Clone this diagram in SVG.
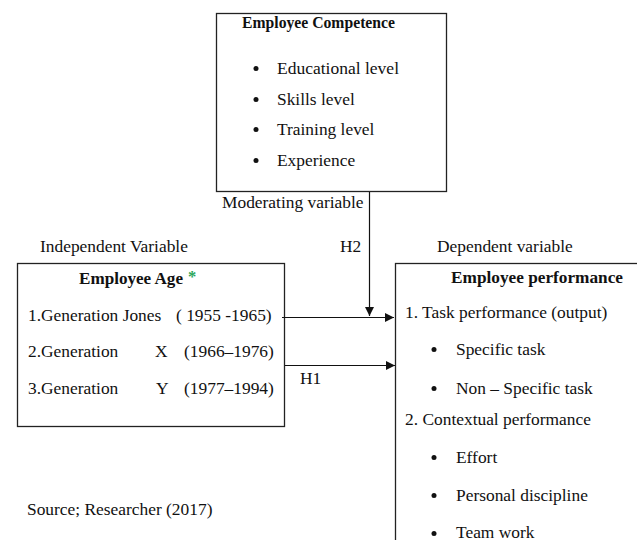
<svg xmlns="http://www.w3.org/2000/svg" width="637" height="540" viewBox="0 0 637 540">
  <style>
    text { font-family: "Liberation Serif", "Times New Roman", serif; font-size: 17.4px; fill: #111; }
    .b { font-weight: bold; font-size: 16.5px; }
    .box { fill: #fff; stroke: #222; stroke-width: 1.3; }
    .ln { stroke: #111; stroke-width: 1.2; fill: none; }
    .dot { fill: #111; }
  </style>
  <defs>
    <marker id="arr" viewBox="0 0 10 10" refX="10" refY="5" markerWidth="9" markerHeight="9" markerUnits="userSpaceOnUse" orient="auto">
      <path d="M0,0 L10,5 L0,10 z" fill="#111"/>
    </marker>
  </defs>
  <rect width="637" height="540" fill="#fff"/>

  <!-- Moderating variable -->
  <g id="competence">
    <rect class="box" x="216.5" y="13.5" width="230" height="178"/>
    <text class="b" x="242" y="28" textLength="153" lengthAdjust="spacingAndGlyphs">Employee Competence</text>
    <circle class="dot" cx="256" cy="68.5" r="2.5"/>
    <text x="277" y="74" textLength="122" lengthAdjust="spacingAndGlyphs">Educational level</text>
    <circle class="dot" cx="256" cy="99.5" r="2.5"/>
    <text x="277" y="105">Skills level</text>
    <circle class="dot" cx="256" cy="129.5" r="2.5"/>
    <text x="277" y="135">Training level</text>
    <circle class="dot" cx="256" cy="160.5" r="2.5"/>
    <text x="277" y="166">Experience</text>
  </g>
  <text x="222" y="208">Moderating variable</text>

  <!-- Independent variable -->
  <text x="40" y="252">Independent Variable</text>
  <g id="age">
    <rect class="box" x="17.5" y="263.5" width="267" height="163"/>
    <text class="b" x="79" y="284" textLength="104" lengthAdjust="spacingAndGlyphs">Employee Age</text>
    <text class="b" x="188" y="282" fill="#2aa65a" style="fill:#2aa65a">*</text>
    <text x="28" y="321">1.Generation Jones</text>
    <text x="176" y="321">( 1955 -1965)</text>
    <text x="28" y="357">2.Generation</text>
    <text x="155" y="357">X</text>
    <text x="184" y="357">(1966–1976)</text>
    <text x="28" y="394">3.Generation</text>
    <text x="156" y="394">Y</text>
    <text x="184" y="394">(1977–1994)</text>
  </g>

  <!-- Dependent variable -->
  <text x="437" y="252">Dependent variable</text>
  <g id="performance">
    <rect class="box" x="395.5" y="263.5" width="260" height="300"/>
    <text class="b" x="451" y="283" textLength="172" lengthAdjust="spacingAndGlyphs">Employee performance</text>
    <text x="405" y="318">1. Task performance (output)</text>
    <circle class="dot" cx="434" cy="349.5" r="2.5"/>
    <text x="456" y="355">Specific task</text>
    <circle class="dot" cx="434" cy="388.5" r="2.5"/>
    <text x="456" y="394">Non – Specific task</text>
    <text x="405" y="425">2.  Contextual performance</text>
    <circle class="dot" cx="434" cy="457.5" r="2.5"/>
    <text x="456" y="463">Effort</text>
    <circle class="dot" cx="434" cy="495.5" r="2.5"/>
    <text x="456" y="501">Personal discipline</text>
    <circle class="dot" cx="434" cy="533.5" r="2.5"/>
    <text x="456" y="538">Team work</text>
  </g>

  <!-- Connectors -->
  <g id="connectors">
    <line class="ln" x1="369.5" y1="192" x2="369.5" y2="316" marker-end="url(#arr)"/>
    <line class="ln" x1="282" y1="317.5" x2="394" y2="317.5" marker-end="url(#arr)"/>
    <line class="ln" x1="285" y1="365.5" x2="395" y2="365.5" marker-end="url(#arr)"/>
    <text x="340" y="252">H2</text>
    <text x="300" y="384">H1</text>
  </g>

  <text x="27" y="515">Source; Researcher (2017)</text>
</svg>
